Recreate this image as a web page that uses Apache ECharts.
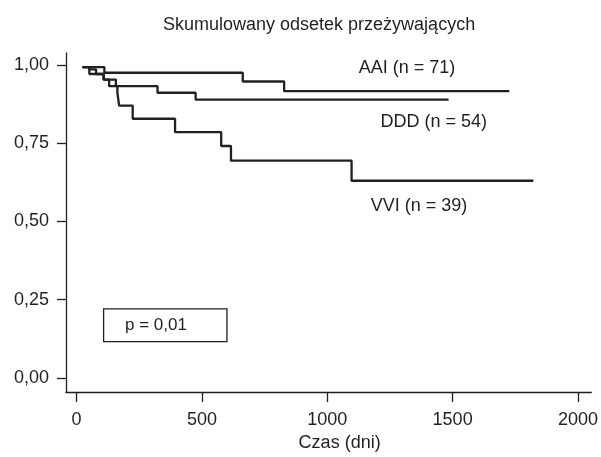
<!DOCTYPE html>
<html>
<head>
<meta charset="utf-8">
<script src="https://cdn.jsdelivr.net/npm/echarts@6/dist/echarts.min.js"></script>
<style>html,body{margin:0;padding:0;background:#fff}#c{width:601px;height:457px}</style>
</head>
<body>
<div id="c"></div>
<script>
var titleText = 'Skumulowany odsetek przeżywających';
var xTicks = [0, 500, 1000, 1500, 2000];
var yTicks = [0, 0.25, 0.5, 0.75, 1];
var xName = 'Czas (dni)';
var pText = 'p = 0,01';

var aaiName = 'AAI (n = 71)';
var aaiDays = [24, 111, 663, 828, 1726];
var aaiSurv = [0.993, 0.975, 0.947, 0.916, 0.916];

var dddName = 'DDD (n = 54)';
var dddDays = [24, 51, 78, 108, 157, 323, 475, 1484];
var dddSurv = [0.993, 0.986, 0.971, 0.953, 0.932, 0.911, 0.889, 0.889];

var vviName = 'VVI (n = 39)';
var vviDays = [24, 51, 108, 130, 163, 170, 224, 393, 577, 616, 1097, 1822];
var vviSurv = [0.993, 0.971, 0.953, 0.932, 0.911, 0.870, 0.828, 0.785, 0.741, 0.694, 0.630, 0.630];

function pairs(xs, ys) { return xs.map(function (x, i) { return [x, ys[i]]; }); }

var ink = '#231f20';
var font = "'Liberation Sans', Arial, sans-serif";
var fs = 18;

function curve(name, xs, ys, lblCoord, extra) {
  var s = {
    name: name,
    type: 'line',
    step: 'end',
    showSymbol: false,
    symbol: 'none',
    lineStyle: { color: ink, width: 2.3 },
    data: pairs(xs, ys),
    markPoint: {
      symbol: 'circle', symbolSize: 0, silent: true,
      label: { show: true, position: 'inside', formatter: name, color: ink, fontFamily: font, fontSize: fs },
      data: [{ coord: lblCoord }]
    }
  };
  if (extra) Object.assign(s, extra);
  return s;
}

var chart = echarts.init(document.getElementById('c'), null, { renderer: 'canvas' });
chart.setOption({
  animation: false,
  title: {
    text: titleText, left: 158, top: 11,
    textStyle: { color: ink, fontFamily: font, fontSize: fs, fontWeight: 'normal' }
  },
  grid: { left: 66, right: 5, top: 53, bottom: 61 },
  xAxis: {
    type: 'value', min: -42, max: 2053,
    name: xName, nameLocation: 'middle', nameGap: 39,
    nameTextStyle: { color: ink, fontFamily: font, fontSize: fs, padding: [0, 0, 0, 22] },
    axisLine: { show: true, onZero: false, lineStyle: { color: ink, width: 1.3 } },
    axisTick: { show: true, length: 10, customValues: xTicks, lineStyle: { color: ink, width: 1.3 } },
    axisLabel: {
      customValues: xTicks, margin: 19, color: ink, fontFamily: font, fontSize: fs,
      formatter: function (v) { return String(v); }
    },
    splitLine: { show: false }
  },
  yAxis: {
    type: 'value', min: -0.045, max: 1.038,
    axisLine: { show: true, onZero: false, lineStyle: { color: ink, width: 1.3 } },
    axisTick: { show: true, length: 9, customValues: yTicks, lineStyle: { color: ink, width: 1.3 } },
    axisLabel: {
      customValues: yTicks, margin: 17, color: ink, fontFamily: font, fontSize: fs,
      formatter: function (v) { return v.toFixed(2).replace('.', ','); }
    },
    splitLine: { show: false }
  },
  series: [
    curve(aaiName, aaiDays, aaiSurv, [1318, 0.990]),
    curve(dddName, dddDays, dddSurv, [1425, 0.817]),
    curve(vviName, vviDays, vviSurv, [1366, 0.548], {
      markArea: {
        silent: true,
        itemStyle: { color: 'rgba(0,0,0,0)', borderColor: ink, borderWidth: 1.3 },
        label: { show: true, position: 'insideLeft', distance: 22, formatter: pText, color: ink, fontFamily: font, fontSize: 17 },
        data: [[{ coord: [108, 0.221] }, { coord: [600, 0.116] }]]
      }
    })
  ]
});
</script>
</body>
</html>
